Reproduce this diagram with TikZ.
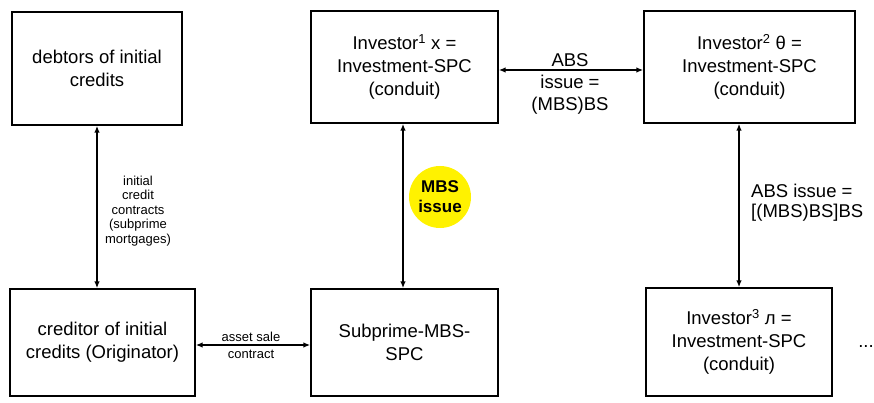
\documentclass[tikz,border=0pt]{standalone}
\usepackage{fontspec}
\setmainfont{Liberation Sans}
\usetikzlibrary{arrows.meta}
\begin{document}
\begin{tikzpicture}[x=1pt,y=-1pt,
  box/.style={draw,line width=1.4pt,align=center,inner sep=0pt,
    font=\fontsize{18.5}{23}\selectfont},
  small/.style={align=center,inner sep=0pt,font=\fontsize{13}{14.5}\selectfont},
  big/.style={align=center,inner sep=0pt,font=\fontsize{18.5}{22}\selectfont},
  arr/.style={line width=1.4pt,{Latex[length=7pt,width=5.5pt]}-{Latex[length=7pt,width=5.5pt]}}]
\useasboundingbox (0,0) rectangle (874,403);
% boxes
\node[box,minimum width=170pt,minimum height=113pt] (debt) at (97,68.5) {debtors of initial\\credits};
\node[box,minimum width=187pt,minimum height=112pt] (inv1) at (404.5,67) {Investor\textsuperscript{1} x =\\Investment-SPC\\(conduit)};
\node[box,minimum width=211pt,minimum height=112pt] (inv2) at (749.5,67) {Investor\textsuperscript{2} θ =\\Investment-SPC\\(conduit)};
\node[box,minimum width=185pt,minimum height=107pt] (cred) at (102.5,342.5) {creditor of initial\\credits (Originator)};
\node[box,minimum width=187pt,minimum height=107pt] (sub) at (404.5,342.5) {Subprime-MBS-\\SPC};
\node[box,minimum width=186pt,minimum height=108pt] (inv3) at (739,342) {Investor\textsuperscript{3} л =\\Investment-SPC\\(conduit)};
% connectors
\coordinate (m1) at ([xshift=-1.5pt]inv1.south);
\draw[arr] (debt.south) -- (cred.north -| debt.south);
\draw[arr] (m1) -- (sub.north -| m1);
\draw[arr] (inv2.south -| inv3.north) -- (inv3.north);
\draw[arr] ([yshift=-3pt]inv1.east) -- ([yshift=-3pt]inv2.west);
\draw[arr] ([yshift=-2.5pt]cred.east) -- ([yshift=-2.5pt]sub.west);
% labels
\node[small] (lbl1) at (138,211) {initial\\credit\\contracts\\(subprime\\mortgages)};
\node[small] (lbl2) at (251,337) {asset sale};
\node[small] (lbl3) at (251,354) {contract};
\node[big] (lbl4) at (570,60) {ABS};
\node[big,anchor=north] (lbl5) at (570,75) {issue =\\(MBS)BS};
\node[big,anchor=west] (lbl6) at (751,203) {\begin{tabular}{@{}l@{}}ABS issue =\\[-2pt][(MBS)BS]BS\end{tabular}};
\node[fill=yellow,circle,minimum size=62pt,inner sep=0pt,align=center,
  font=\bfseries\fontsize{17}{20}\selectfont] (mbs) at (440,197) {MBS\\issue};
\node[big] (dots) at (866,347) {...};
\end{tikzpicture}
\end{document}
